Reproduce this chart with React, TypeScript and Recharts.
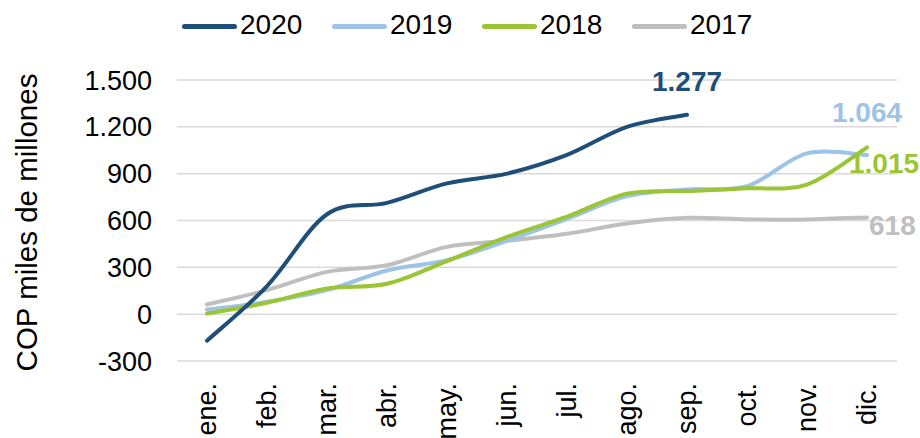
import { CartesianGrid, Line, LineChart, XAxis, YAxis } from "recharts";

const FONT = '"Liberation Sans", Arial, sans-serif';

const MONTHS = ["ene.", "feb.", "mar.", "abr.", "may.", "jun.", "jul.", "ago.", "sep.", "oct.", "nov.", "dic."];
const Y_TICKS = [-300, 0, 300, 600, 900, 1200, 1500];

const V2020 = [-170, 180, 640, 713, 838, 900, 1020, 1200, 1277, null, null, null];
const V2019 = [30, 79, 154, 280, 346, 470, 610, 756, 799, 820, 1030, 1019];
const V2018 = [4, 73, 165, 195, 340, 495, 625, 772, 788, 806, 830, 1068];
const V2017 = [62, 154, 271, 314, 431, 470, 515, 581, 617, 607, 607, 620];

const SERIES = [
  { key: "2020", color: "#1f4e79", endLabel: "1.277", lastIndex: 8, dx: 0, dy: -24, anchor: "middle" },
  { key: "2019", color: "#9dc3e6", endLabel: "1.064", lastIndex: 11, dx: 0, dy: -33, anchor: "middle" },
  { key: "2018", color: "#9bc534", endLabel: "1.015", lastIndex: 11, dx: -18, dy: 26, anchor: "start" },
  { key: "2017", color: "#bfbfbf", endLabel: "618", lastIndex: 11, dx: 2, dy: 18, anchor: "start" },
];

// drawing order seen in the picture (grey at the back, 2020 on top)
const DRAW_ORDER = ["2017", "2019", "2018", "2020"];

const data = MONTHS.map((month, i) => ({
  month,
  "2020": V2020[i],
  "2019": V2019[i],
  "2018": V2018[i],
  "2017": V2017[i],
}));

function formatThousands(v: number) {
  return String(v).replace(/\B(?=(\d{3})+(?!\d))/g, ".");
}

// Catmull-Rom style smoothing, closer to the spreadsheet "smoothed line" than monotone
function smoothCurve(context: any) {
  let pts: number[][] = [];
  return {
    areaStart() {},
    areaEnd() {},
    lineStart() {
      pts = [];
    },
    point(x: number, y: number) {
      pts.push([+x, +y]);
    },
    lineEnd() {
      if (!pts.length) return;
      context.moveTo(pts[0][0], pts[0][1]);
      if (pts.length === 1) {
        context.lineTo(pts[0][0], pts[0][1]);
        return;
      }
      for (let i = 0; i < pts.length - 1; i++) {
        const p0 = pts[i - 1] || pts[i];
        const p1 = pts[i];
        const p2 = pts[i + 1];
        const p3 = pts[i + 2] || p2;
        context.bezierCurveTo(
          p1[0] + (p2[0] - p0[0]) / 6,
          p1[1] + (p2[1] - p0[1]) / 6,
          p2[0] - (p3[0] - p1[0]) / 6,
          p2[1] - (p3[1] - p1[1]) / 6,
          p2[0],
          p2[1],
        );
      }
    },
  };
}

function MonthTick({ x, y, payload }: any) {
  return (
    <text
      transform={`translate(${x},${y + 22}) rotate(-90)`}
      textAnchor="end"
      dy="0.35em"
      fontSize={27}
      fontFamily={FONT}
      fill="#000"
    >
      {payload.value}
    </text>
  );
}

function YTitle({ viewBox }: any) {
  const x = viewBox.x + 37;
  const y = viewBox.y + viewBox.height / 2 + 2;
  return (
    <text
      x={x}
      y={y}
      transform={`rotate(-90, ${x}, ${y})`}
      textAnchor="middle"
      fontSize={29.5}
      fontFamily={FONT}
      fill="#000"
    >
      COP miles de millones
    </text>
  );
}

function EndLabel({ x, y, index, s }: any) {
  if (index !== s.lastIndex || x == null || y == null) return null;
  return (
    <text
      x={x + s.dx}
      y={y + s.dy}
      textAnchor={s.anchor}
      fontSize={28}
      fontWeight="bold"
      fontFamily={FONT}
      fill={s.color}
    >
      {s.endLabel}
    </text>
  );
}

function LegendRow() {
  return (
    <div style={{ position: "absolute", left: 0, top: 0, width: 920, height: 50 }}>
      {SERIES.map((s, i) => (
        <div key={s.key} style={{ position: "absolute", left: 182 + i * 150, top: 0, height: 50, width: 140 }}>
          <span
            style={{
              position: "absolute",
              left: 0,
              top: 23.5,
              width: 55,
              height: 5,
              borderRadius: 2.5,
              background: s.color,
            }}
          />
          <span
            style={{
              position: "absolute",
              left: 58,
              top: 11,
              fontSize: 28,
              lineHeight: "28px",
              fontFamily: FONT,
              color: "#000",
              whiteSpace: "nowrap",
            }}
          >
            {s.key}
          </span>
        </div>
      ))}
    </div>
  );
}

export default function App() {
  return (
    <div style={{ position: "absolute", left: 0, top: 0, width: 920, height: 438, background: "#fff" }}>
      <LineChart width={920} height={438} data={data} margin={{ top: 80, right: 23, bottom: 0, left: 0 }}>
        <CartesianGrid vertical={false} stroke="#d9d9d9" strokeWidth={1.5} />
        <XAxis
          dataKey="month"
          height={77}
          axisLine={false}
          tickLine={false}
          tickSize={0}
          tickMargin={0}
          interval={0}
          padding={{ left: 30, right: 30 }}
          tick={<MonthTick />}
        />
        <YAxis
          width={177}
          domain={[-300, 1500]}
          ticks={Y_TICKS}
          axisLine={false}
          tickLine={false}
          tickSize={0}
          tickMargin={25}
          tickFormatter={formatThousands}
          tick={{ fontSize: 27, fontFamily: FONT, fill: "#000" }}
          label={(props: any) => <YTitle {...props} />}
        />
        {DRAW_ORDER.map((key) => {
          const s = SERIES.find((item) => item.key === key)!;
          return (
            <Line
              key={key}
              type={smoothCurve as any}
              dataKey={key}
              stroke={s.color}
              strokeWidth={4}
              strokeLinecap="round"
              dot={false}
              activeDot={false}
              isAnimationActive={false}
              label={(props: any) => <EndLabel {...props} s={s} />}
            />
          );
        })}
      </LineChart>
      <LegendRow />
    </div>
  );
}
